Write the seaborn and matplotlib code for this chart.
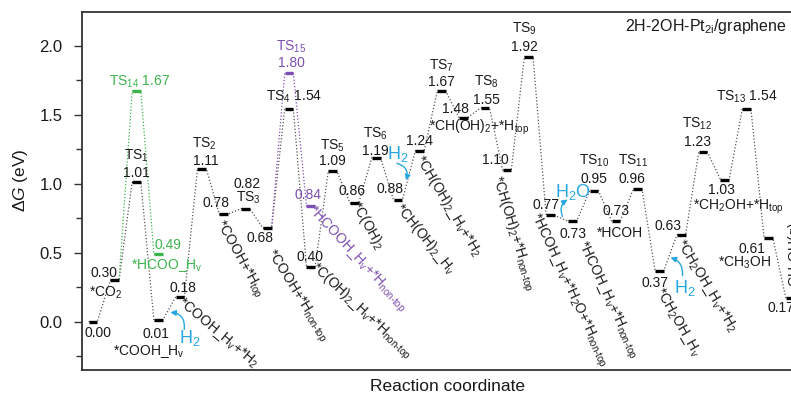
import numpy as np
import pandas as pd
import seaborn as sns
import matplotlib.pyplot as plt
from matplotlib.ticker import MultipleLocator
from matplotlib.transforms import offset_copy

# free energy of every state along the main pathway (eV)
main_G = [0.00, 0.30, 1.01, 0.01, 0.18, 1.11, 0.78, 0.82, 0.68, 1.54,
          0.40, 1.09, 0.86, 1.19, 0.88, 1.24, 1.67, 1.48, 1.55, 1.10,
          1.92, 0.77, 0.73, 0.95, 0.73, 0.96, 0.37, 0.63, 1.23, 1.03,
          1.54, 0.61, 0.17]
main_step = list(range(len(main_G)))
main_names = ["", "*CO$_2$", "TS$_1$", "*COOH_H$_v$", "*COOH_H$_v$+*H$_2$",
              "TS$_2$", "*COOH+*H$_{top}$", "TS$_3$", "*COOH+*H$_\\text{non-top}$",
              "TS$_4$", "*C(OH)$_2$_H$_v$+*H$_\\text{non-top}$", "TS$_5$",
              "*C(OH)$_2$", "TS$_6$", "*CH(OH)$_2$_H$_v$",
              "*CH(OH)$_2$_H$_v$+*H$_2$", "TS$_7$", "*CH(OH)$_2$+*H$_{top}$",
              "TS$_8$", "*CH(OH)$_2$+*H$_\\text{non-top}$", "TS$_9$",
              "*HCOH_H$_v$+*H$_2$O+*H$_\\text{non-top}$",
              "*HCOH_H$_v$+*H$_\\text{non-top}$", "TS$_{10}$", "*HCOH",
              "TS$_{11}$", "*CH$_2$OH_H$_v$", "*CH$_2$OH_H$_v$+*H$_2$",
              "TS$_{12}$", "*CH$_2$OH+*H$_{top}$", "TS$_{13}$", "*CH$_3$OH",
              "CH$_3$OH(g)"]

# side branches: HCOO route via TS14 and HCOOH route via TS15
hcoo_step = [1, 2, 3]
hcoo_G = [0.30, 1.67, 0.49]
hcoo_names = ["", "TS$_{14}$", "*HCOO_H$_v$"]
hcooh_step = [8, 9, 10]
hcooh_G = [0.68, 1.80, 0.84]
hcooh_names = ["", "TS$_{15}$", "*HCOOH_H$_v$+*H$_\\text{non-top}$"]

# gas molecules released / taken up: (step, label)
gas_steps = [3, 14, 21, 26]
gas_labels = ["H$_2$", "H$_2$", "H$_2$O", "H$_2$"]

black = "#1a1a1a"
green = "#3cb44b"
purple = "#7d4fb0"
blue = "#26a7e1"

sns.set_style("ticks")
plt.rcParams['font.family'] = ['Liberation Sans', 'DejaVu Sans']
plt.rcParams['mathtext.fontset'] = 'custom'
plt.rcParams['mathtext.rm'] = 'Liberation Sans'
plt.rcParams['mathtext.it'] = 'Liberation Sans:italic'
plt.rcParams['mathtext.default'] = 'regular'

fig = plt.figure(figsize=(7.91, 3.94), dpi=100)
ax = fig.add_axes([82 / 791, 24 / 394, 730 / 791, 358 / 394])

w = 0.2  # half width of an energy level


def path_frame(steps, G, name):
    xs, ys = [], []
    for s, g in zip(steps, G):
        xs += [s - w, s + w]
        ys += [g, g]
    return pd.DataFrame({'x': xs, 'G': ys, 'path': name})


paths = pd.concat([path_frame(main_step, main_G, 'main'),
                   path_frame(hcoo_step, hcoo_G, 'hcoo'),
                   path_frame(hcooh_step, hcooh_G, 'hcooh')])
sns.lineplot(data=paths, x='x', y='G', hue='path', sort=False, estimator=None,
             palette={'main': '#555555', 'hcoo': green, 'hcooh': purple},
             linestyle=(0, (1, 1.6)), lw=0.9, legend=False, ax=ax)

ax.hlines(main_G, np.array(main_step) - w, np.array(main_step) + w, color='black', lw=2.4, zorder=3)
ax.hlines(hcoo_G[1:], np.array(hcoo_step[1:]) - w, np.array(hcoo_step[1:]) + w, color=green, lw=2.4, zorder=3)
ax.hlines(hcooh_G[1:], np.array(hcooh_step[1:]) - w, np.array(hcooh_step[1:]) + w, color=purple, lw=2.4, zorder=3)


def shifted(dx, dy):
    return offset_copy(ax.transData, fig=fig, x=dx, y=dy, units='dots')


def note(s, g, txt, dx, dy, rot=0, color=black, size=10):
    ax.text(s, g, txt, transform=shifted(dx, dy), ha='center', va='center',
            rotation=rot, rotation_mode='anchor', color=color, fontsize=size)


# label layout (pixel offsets from the level): value text, then name text
val_off = [(5, -11), (-11, 7), (0, 9), (-2, -14), (3, 9), (4, 8), (-8, 11),
           (2, 25), (-7, -10), None, (-1, 10), (0, 10), (-2, 12), (-1, 7),
           (-8, 11), (0, 10), (0, 9), (-8, 9), (1, 8), (-12, 10), (-4, 10),
           (-5, 10), (1, -13), (0, 12), (0, 10), (-6, 10), (-4, -12),
           (-13, 9), (-6, 10), (-3, -10), None, (-16, -11), (-9, -10)]
name_off = [None, (-9, -12, 0), (0, 27, 0), (-9, -31, 0), (38, -36, -40),
            (3, 25, 0), (15, -45, -61), (3, 11, 0), (29, -68, -58),
            (5, 12, 0), (50, -45, -43), (0, 26, 0), (13, -23, -61),
            (-1, 24, 0), (27, -39, -51), (29, -55, -59), (0, 26, 0),
            (16, -10, 0), (1, 26, 0), (6, -63, -73), (-4, 28, 0),
            (18, -75, -65), (35, -79, -65), (0, 30, 0), (4, -12, 0),
            (-5, 28, 0), (18, -51, -60), (25, -51, -59), (-6, 28, 0),
            (14, -27, 0), (0, 12, 0), (-24, -25, 0), (5, 44, 90)]

for s, g, name, vo, no in zip(main_step, main_G, main_names, val_off, name_off):
    if vo is None:
        note(s, g, f"{name} {g:.2f}", no[0], no[1])
        continue
    note(s, g, f"{g:.2f}", *vo)
    if no is not None:
        note(s, g, name, *no)

# branch labels
note(hcoo_step[1], hcoo_G[1], f"{hcoo_names[1]} {hcoo_G[1]:.2f}", 3, 10, color=green)
note(hcoo_step[2], hcoo_G[2], f"{hcoo_G[2]:.2f}", 10, 9, color=green)
note(hcoo_step[2], hcoo_G[2], hcoo_names[2], 9, -11, color=green)
note(hcooh_step[1], hcooh_G[1], f"{hcooh_G[1]:.2f}", 2, 10, color=purple)
note(hcooh_step[1], hcooh_G[1], hcooh_names[1], 2, 27, color=purple)
note(hcooh_step[2], hcooh_G[2], f"{hcooh_G[2]:.2f}", -3, 11, color=purple)
note(hcooh_step[2], hcooh_G[2], hcooh_names[2], 46, -54, rot=-47, color=purple)

# curved gas arrows: arrow start, arrow end, text position, curvature
arrow_layout = [((26, -9), (12, 8), (32, -18), 0.5),
                ((-1, 37), (8, 20), (0, 46), -0.5),
                ((12, -1), (17, 16), (22, 23), -0.4),
                ((23, -5), (11, 13), (25, -17), 0.4)]
for s, lab, (a0, a1, t, rad) in zip(gas_steps, gas_labels, arrow_layout):
    g = main_G[s]
    ax.annotate('', xy=(s, g), xycoords=shifted(*a1), xytext=(s, g), textcoords=shifted(*a0),
                arrowprops=dict(arrowstyle='-|>', color=blue, lw=1, mutation_scale=8,
                                shrinkA=0, shrinkB=0, connectionstyle=f'arc3,rad={rad}'))
    note(s, g, lab, t[0], t[1], color=blue, size=13)

ax.set_xlim(-0.5, 33)
ax.set_ylim(-0.35, 2.245)
ax.set_xticks([])
ax.yaxis.set_major_locator(MultipleLocator(0.5))
ax.yaxis.set_minor_locator(MultipleLocator(0.25))
ax.tick_params(axis='y', which='major', direction='out', length=6, width=1, labelsize=12, pad=8, colors='#333333', labelcolor=black)
ax.tick_params(axis='y', which='minor', direction='out', length=4, width=1, colors='#333333')
for side in ['left', 'bottom', 'top']:
    ax.spines[side].set_linewidth(1.3)
    ax.spines[side].set_color('#333333')
ax.spines['right'].set_visible(False)

ax.set_xlabel('Reaction coordinate', fontsize=12.5, color=black)
ax.xaxis.set_label_coords(0.5, -0.025)
ax.set_ylabel(r'Δ$\mathit{G}$ (eV)', fontsize=12.5, color=black)
ax.yaxis.set_label_coords(-0.071, 0.53)

fig.text(787 / 791, 1 - 27 / 394, '2H-2OH-Pt$_{2i}$/graphene', ha='right', va='center', fontsize=11.5, color=black)

fig.savefig('out.png', dpi=100)
